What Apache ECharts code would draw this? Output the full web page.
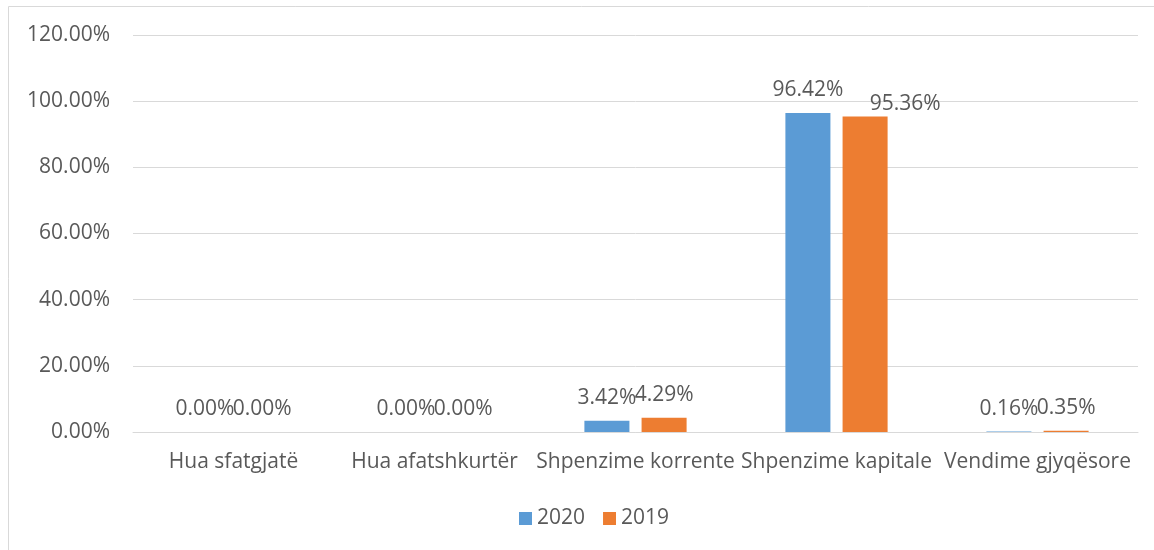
<!DOCTYPE html>
<html>
<head>
<meta charset="utf-8">
<script src="https://cdn.jsdelivr.net/npm/echarts@6/dist/echarts.min.js"></script>
<style>
  html, body { margin: 0; padding: 0; background: #fff; }
  #chart { width: 1154px; height: 550px; }
</style>
</head>
<body>
<div id="chart"></div>
<script>
const categories = ["Hua sfatgjatë", "Hua afatshkurtër", "Shpenzime korrente", "Shpenzime kapitale", "Vendime gjyqësore"];
const values2020 = [0.00, 0.00, 3.42, 96.42, 0.16];
const values2019 = [0.00, 0.00, 4.29, 95.36, 0.35];
const yTicks = [0, 20, 40, 60, 80, 100, 120];

const textColor = "#595959";
const fontFamily = "'Open Sans', sans-serif";
const fontSize = 21;

const dom = echarts.init(document.getElementById("chart"));

const valueLabel = {
  show: true,
  position: "top",
  distance: 12,
  color: textColor,
  fontSize: fontSize,
  fontFamily: fontFamily,
  formatter: p => p.value.toFixed(2) + "%"
};

// Excel nudged the 95.36% label to the right to keep it clear of 96.42%
const data2019 = values2019.map((v, i) =>
  i === 3 ? { value: v, label: { offset: [40, 10] } } : v
);

const option = {
  animation: false,
  graphic: [
    {
      type: "rect",
      shape: { x: 8.5, y: 6.5, width: 1200, height: 600 },
      style: { fill: "none", stroke: "#d9d9d9", lineWidth: 1 },
      silent: true
    }
  ],
  grid: {
    left: 133,
    right: 16,
    top: 35,
    bottom: 118
  },
  legend: {
    bottom: 16,
    left: 514,
    itemWidth: 13,
    itemHeight: 13,
    itemGap: 18,
    icon: "rect",
    textStyle: { color: textColor, fontSize: fontSize, fontFamily: fontFamily },
    data: ["2020", "2019"]
  },
  xAxis: {
    type: "category",
    data: categories,
    axisLine: { lineStyle: { color: "#d9d9d9" } },
    axisTick: { show: false },
    axisLabel: {
      color: textColor,
      fontSize: fontSize,
      fontFamily: fontFamily,
      margin: 20,
      interval: 0
    }
  },
  yAxis: {
    type: "value",
    min: yTicks[0],
    max: yTicks[yTicks.length - 1],
    interval: 20,
    axisLine: { show: false },
    axisTick: { show: false },
    splitLine: { lineStyle: { color: "#d9d9d9" } },
    axisLabel: {
      color: textColor,
      fontSize: fontSize,
      fontFamily: fontFamily,
      margin: 23,
      formatter: v => v.toFixed(2) + "%"
    }
  },
  series: [
    {
      name: "2020",
      type: "bar",
      data: values2020,
      barWidth: "22.4%",
      barGap: "27%",
      itemStyle: { color: "#5b9bd5" },
      label: valueLabel
    },
    {
      name: "2019",
      type: "bar",
      data: data2019,
      barWidth: "22.4%",
      itemStyle: { color: "#ed7d31" },
      label: valueLabel
    }
  ]
};

dom.setOption(option);
</script>
</body>
</html>
